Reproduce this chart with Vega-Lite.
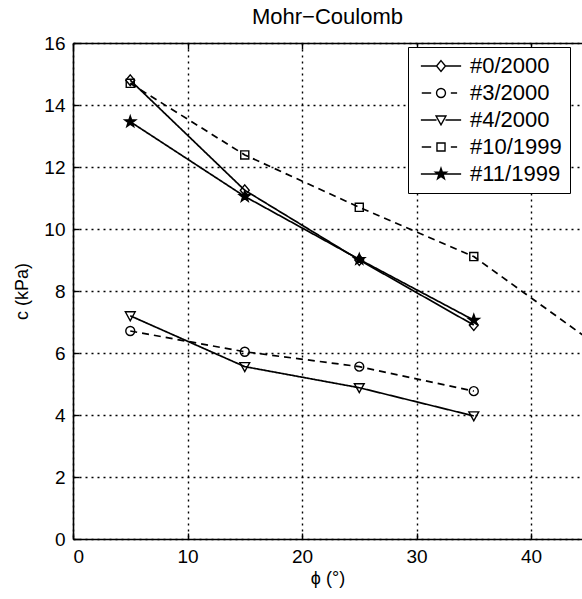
{
  "$schema": "https://vega.github.io/schema/vega-lite/v6.json",
  "width": 509,
  "height": 496,
  "autosize": {"type": "none"},
  "padding": {"left": 73, "top": 43, "right": 0, "bottom": 60},
  "background": "#ffffff",
  "title": {"text": "Mohr−Coulomb", "fontSize": 22, "font": "Liberation Sans", "fontWeight": "normal", "color": "#000", "offset": 5, "anchor": "middle"},
  "config": {
    "view": {"stroke": null},
    "axis": {
      "domainColor": "#000", "domainWidth": 1.6,
      "tickColor": "#000", "tickWidth": 1.4, "tickSize": -6,
      "labelFont": "Liberation Sans", "labelFontSize": 19, "labelColor": "#000",
      "titleFont": "Liberation Sans", "titleFontSize": 18, "titleFontWeight": "normal", "titleColor": "#000",
      "gridColor": "#000", "gridDash": [2, 4], "gridWidth": 1.4, "gridOpacity": 1
    }
  },
  "data": {"values": [
    {"series": "#0/2000", "phi": 5, "c": 14.8},
    {"series": "#0/2000", "phi": 15, "c": 11.25},
    {"series": "#0/2000", "phi": 25, "c": 9.0},
    {"series": "#0/2000", "phi": 35, "c": 6.9},
    {"series": "#3/2000", "phi": 5, "c": 6.71},
    {"series": "#3/2000", "phi": 15, "c": 6.04},
    {"series": "#3/2000", "phi": 25, "c": 5.56},
    {"series": "#3/2000", "phi": 35, "c": 4.77},
    {"series": "#4/2000", "phi": 5, "c": 7.2},
    {"series": "#4/2000", "phi": 15, "c": 5.56},
    {"series": "#4/2000", "phi": 25, "c": 4.88},
    {"series": "#4/2000", "phi": 35, "c": 3.97},
    {"series": "#10/1999", "phi": 5, "c": 14.7},
    {"series": "#10/1999", "phi": 15, "c": 12.39},
    {"series": "#10/1999", "phi": 25, "c": 10.7},
    {"series": "#10/1999", "phi": 35, "c": 9.11},
    {"series": "#10/1999", "phi": 45, "c": 6.45},
    {"series": "#11/1999", "phi": 5, "c": 13.46},
    {"series": "#11/1999", "phi": 15, "c": 11.05},
    {"series": "#11/1999", "phi": 25, "c": 9.02},
    {"series": "#11/1999", "phi": 35, "c": 7.06}
  ]},
  "layer": [
    {
      "mark": {"type": "line", "clip": true, "strokeWidth": 1.7, "color": "#000"},
      "encoding": {
        "x": {"field": "phi", "type": "quantitative", "scale": {"domain": [0, 44.45], "nice": false, "zero": false},
              "axis": {"orient": "bottom", "values": [0, 10, 20, 30, 40], "title": "ϕ (°)", "labelPadding": 14, "titlePadding": 3}},
        "y": {"field": "c", "type": "quantitative", "scale": {"domain": [0, 16], "nice": false},
              "axis": {"orient": "left", "values": [0, 2, 4, 6, 8, 10, 12, 14, 16], "title": "c (kPa)", "labelPadding": 14, "titlePadding": 12}},
        "strokeDash": {"condition": {"test": "datum.series === '#3/2000' || datum.series === '#10/1999'", "value": [7, 5]}, "value": [1, 0]},
        "detail": {"field": "series", "type": "nominal"}
      }
    },
    {
      "mark": {"type": "point", "clip": true, "filled": false, "strokeWidth": 1.4, "size": 80, "opacity": 1, "color": "#000"},
      "encoding": {
        "x": {"field": "phi", "type": "quantitative", "scale": {"domain": [0, 44.45], "nice": false, "zero": false},
              "axis": {"orient": "top", "values": [0, 10, 20, 30, 40], "labels": false, "grid": false, "title": null}},
        "y": {"field": "c", "type": "quantitative", "scale": {"domain": [0, 16], "nice": false}},
        "shape": {
          "condition": [
            {"test": "datum.series === '#0/2000'", "value": "M0,-1.2L1,0L0,1.2L-1,0Z"},
            {"test": "datum.series === '#3/2000'", "value": "M1,0A1,1,0,1,1,-1,0A1,1,0,1,1,1,0Z"},
            {"test": "datum.series === '#4/2000'", "value": "M-1.1,-0.9L1.1,-0.9L0,1.1Z"},
            {"test": "datum.series === '#10/1999'", "value": "M-0.9,-0.9H0.9V0.9H-0.9Z"}
          ],
          "value": "M0,-1.3L0.306,-0.421L1.236,-0.402L0.494,0.161L0.764,1.052L0,0.52L-0.764,1.052L-0.494,0.161L-1.236,-0.402L-0.306,-0.421Z"
        },
        "fill": {"condition": {"test": "datum.series === '#11/1999'", "value": "#000"}, "value": "transparent"}
      }
    },
    {
      "transform": [{"filter": "datum.phi > 1000"}],
      "mark": {"type": "point", "filled": false, "strokeWidth": 1.4, "size": 80, "opacity": 1, "color": "#000"},
      "encoding": {
        "shape": {"field": "series", "type": "nominal",
          "scale": {"domain": ["#0/2000", "#3/2000", "#4/2000", "#10/1999", "#11/1999"],
                    "range": ["M-4.5,0H-1M1,0H4.5M0,-1.2L1,0L0,1.2L-1,0Z", "M-4.3,0H-2.2M2.2,0H3.6M1,0A1,1,0,1,1,-1,0A1,1,0,1,1,1,0Z", "M-4.5,0H-1M1,0H4.5M-1.1,-0.9L1.1,-0.9L0,1.1Z", "M-4.3,0H-2.2M2.2,0H3.6M-0.9,-0.9H0.9V0.9H-0.9Z", "M-4.5,0H4.5M0,-1.3L0.306,-0.421L1.236,-0.402L0.494,0.161L0.764,1.052L0,0.52L-0.764,1.052L-0.494,0.161L-1.236,-0.402L-0.306,-0.421ZM0,-0.845L0.199,-0.274L0.803,-0.261L0.321,0.105L0.497,0.684L0,0.338L-0.497,0.684L-0.321,0.105L-0.803,-0.261L-0.199,-0.274ZM0,-0.39L0.092,-0.126L0.371,-0.121L0.148,0.048L0.229,0.316L0,0.156L-0.229,0.316L-0.148,0.048L-0.371,-0.121L-0.092,-0.126Z"]},
          "legend": {
            "title": null, "orient": "none", "legendX": 335, "legendY": 4,
            "padding": 8, "strokeColor": "#000", "fillColor": "#fff",
            "labelFontSize": 22, "labelFont": "Liberation Sans", "labelColor": "#000",
            "symbolSize": 80, "symbolStrokeWidth": 1.4, "symbolStrokeColor": "#000",
            "rowPadding": 5, "symbolOffset": 14, "labelOffset": 18
          }
        }
      }
    }
  ],
  "resolve": {"axis": {"x": "independent"}}
}
